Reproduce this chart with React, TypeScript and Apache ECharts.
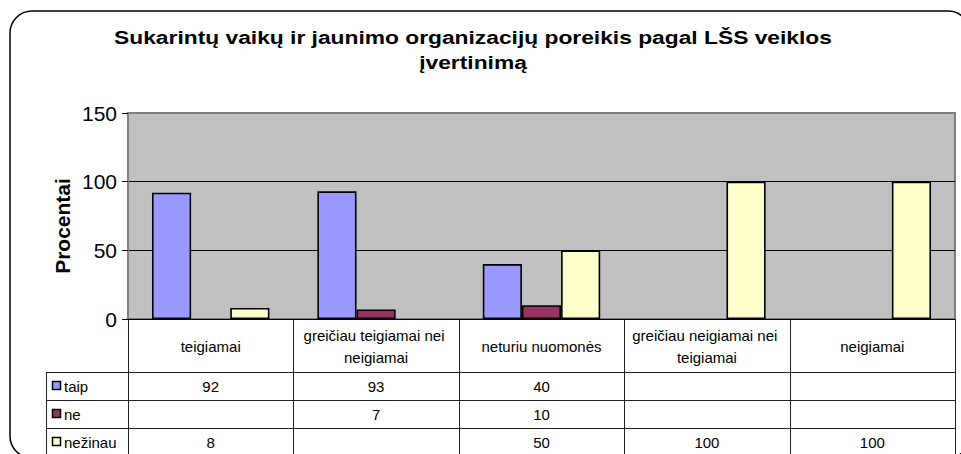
import React, { useEffect, useRef } from 'react';
import * as echarts from 'echarts';

const categories = [
  'teigiamai',
  'greičiau teigiamai nei neigiamai',
  'neturiu nuomonės',
  'greičiau neigiamai nei teigiamai',
  'neigiamai',
];
const seriesNames = ['taip', 'ne', 'nežinau'];
const taip = [92, 93, 40, null, null];
const ne = [null, 7, 10, null, null];
const nezinau = [8, null, 50, 100, 100];
const seriesColors = ['#9999FF', '#993366', '#FFFFCC'];
const yMin = 0;
const yMax = 150;
const yInterval = 50;
const titleText = 'Sukarintų vaikų ir jaunimo organizacijų poreikis pagal LŠS veiklos\nįvertinimą';
const yAxisName = 'Procentai';

const FONT = '"Liberation Sans", Arial, sans-serif';

export default function App() {
  const ref = useRef<HTMLDivElement>(null);

  useEffect(() => {
    if (!ref.current) return;
    const chart = echarts.init(ref.current, undefined, { renderer: 'svg' });
    const W = 961;
    const H = 454;
    const gridLeft = 128;
    const gridRight = 6;
    const gridTop = 113;
    const gridBottom = 135;
    const plotBottom = H - gridBottom;
    const plotRight = W - gridRight;
    const allData = [taip, ne, nezinau];

    chart.setOption({
      animation: false,
      grid: {
        left: gridLeft,
        right: gridRight,
        top: gridTop,
        bottom: gridBottom,
        show: true,
        backgroundColor: '#C0C0C0',
        borderColor: '#808080',
        borderWidth: 2,
      },
      xAxis: {
        type: 'category',
        data: categories,
        axisLabel: { show: false },
        axisTick: { show: false },
        axisLine: { show: true, lineStyle: { color: '#000', width: 1 } },
      },
      yAxis: {
        type: 'value',
        min: yMin,
        max: yMax,
        interval: yInterval,
        axisLine: { show: true, lineStyle: { color: '#808080', width: 1 } },
        axisTick: { show: true, length: 6, lineStyle: { color: '#000' } },
        axisLabel: { margin: 11, fontSize: 21, color: '#000', fontFamily: FONT },
        splitLine: {
          show: true,
          lineStyle: { color: ['#000', '#000', '#000', '#808080'], width: 1 },
        },
      },
      series: seriesNames.map((name, i) => ({
        name,
        type: 'bar',
        data: allData[i],
        barGap: '0%',
        barCategoryGap: '29%',
        itemStyle: { color: seriesColors[i], borderColor: '#000', borderWidth: 1.6 },
      })),
    });

    const c0 = chart.convertToPixel({ xAxisIndex: 0 }, 0) as number;
    const c1 = chart.convertToPixel({ xAxisIndex: 0 }, 1) as number;
    const band = c1 - c0;
    const centers = categories.map((_, i) => chart.convertToPixel({ xAxisIndex: 0 }, i) as number);

    const lineColor = '#222';
    const headerBottom = 372;
    const rowH = 28;
    const legendLeft = 46;
    const g: any[] = [];

    // outer rounded frame
    g.push({
      type: 'rect',
      shape: { x: 10, y: 11, width: 960, height: 447, r: 22 },
      style: { fill: 'none', stroke: '#000', lineWidth: 1.5 },
    });
    // title
    g.push({
      type: 'text',
      x: 473,
      y: 50,
      scaleX: 1.2,
      style: {
        text: titleText,
        fill: '#000',
        fontSize: 19,
        fontWeight: 'bold',
        fontFamily: FONT,
        align: 'center',
        verticalAlign: 'middle',
        lineHeight: 25,
      },
    });
    // y axis name
    g.push({
      type: 'text',
      x: 62,
      y: 226,
      rotation: Math.PI / 2,
      style: {
        text: yAxisName,
        fill: '#000',
        fontSize: 21,
        fontWeight: 'bold',
        fontFamily: FONT,
        align: 'center',
        verticalAlign: 'middle',
      },
    });
    // table vertical lines
    for (let i = 0; i <= categories.length; i++) {
      const x = Math.round(centers[0] - band / 2 + i * band) + 0.5;
      g.push({
        type: 'line',
        shape: { x1: x, y1: plotBottom, x2: x, y2: H },
        style: { stroke: lineColor, lineWidth: 1 },
      });
    }
    g.push({
      type: 'line',
      shape: { x1: legendLeft + 0.5, y1: headerBottom, x2: legendLeft + 0.5, y2: H },
      style: { stroke: lineColor, lineWidth: 1 },
    });
    // table horizontal lines
    for (let r = 0; r < seriesNames.length; r++) {
      const y = headerBottom + r * rowH + 0.5;
      g.push({
        type: 'line',
        shape: { x1: legendLeft, y1: y, x2: plotRight, y2: y },
        style: { stroke: lineColor, lineWidth: 1 },
      });
    }
    // header labels
    categories.forEach((cat, i) => {
      g.push({
        type: 'text',
        x: centers[i],
        y: (plotBottom + headerBottom) / 2 + 1,
        style: {
          text: cat,
          width: band - 3,
          overflow: 'break',
          fill: '#000',
          fontSize: 15,
          fontFamily: FONT,
          align: 'center',
          verticalAlign: 'middle',
          lineHeight: 22,
        },
      });
    });
    // rows
    seriesNames.forEach((name, r) => {
      const cy = headerBottom + r * rowH + rowH / 2;
      g.push({
        type: 'rect',
        shape: { x: 52.5, y: cy - 4.5, width: 8, height: 8 },
        style: { fill: seriesColors[r], stroke: '#000', lineWidth: 1.5 },
      });
      g.push({
        type: 'text',
        x: 64,
        y: cy,
        style: {
          text: name,
          fill: '#000',
          fontSize: 15,
          fontFamily: FONT,
          align: 'left',
          verticalAlign: 'middle',
        },
      });
      allData[r].forEach((v, i) => {
        if (v === null || v === undefined) return;
        g.push({
          type: 'text',
          x: centers[i],
          y: cy,
          style: {
            text: String(v),
            fill: '#000',
            fontSize: 15,
            fontFamily: FONT,
            align: 'center',
            verticalAlign: 'middle',
          },
        });
      });
    });

    chart.setOption({ graphic: g });

    return () => {
      chart.dispose();
    };
  }, []);

  return (
    <div
      ref={ref}
      style={{ position: 'fixed', left: 0, top: 0, width: 961, height: 454, background: '#fff' }}
    />
  );
}
